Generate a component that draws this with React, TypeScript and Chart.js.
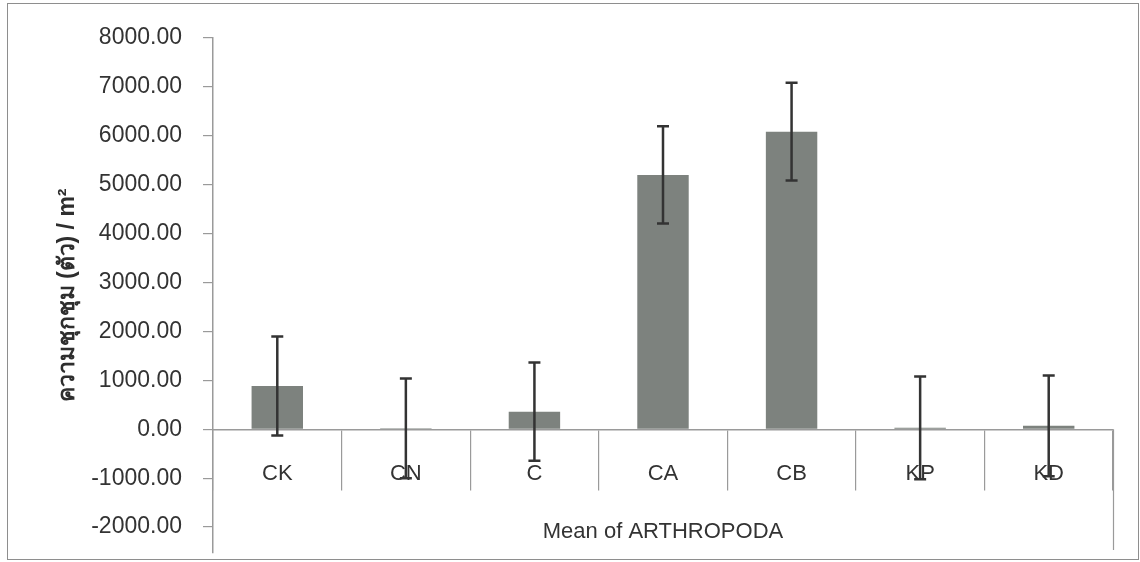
import React, { useEffect, useRef } from 'react';
import { Chart, registerables } from 'chart.js';

Chart.register(...registerables);

// ---- data ----
const categories: string[] = ['CK', 'CN', 'C', 'CA', 'CB', 'KP', 'KD'];
const means: number[] = [885, 20, 360, 5200, 6085, 30, 70];
const errors: number[] = [1010, 1020, 1005, 995, 1000, 1050, 1030];
const yTickValues: number[] = [-2000, -1000, 0, 1000, 2000, 3000, 4000, 5000, 6000, 7000, 8000];
const yMin = -2530;
const yMax = 8000;
const xTitle = 'Mean of ARTHROPODA';
const yTitle = 'ความชุกชุม (ตัว) / m²';

const FONT = "Tahoma, 'Liberation Sans', 'DejaVu Sans', sans-serif";
const TEXT = '#333333';
const AXIS = '#9a9a9a';

const errorBarPlugin = {
  id: 'errorBars',
  afterDatasetsDraw(chart: any) {
    const { ctx } = chart;
    const y = chart.scales.y;
    const meta = chart.getDatasetMeta(0);
    ctx.save();
    ctx.strokeStyle = '#333333';
    ctx.lineWidth = 2.5;
    meta.data.forEach((bar: any, i: number) => {
      const cx = bar.x;
      const top = y.getPixelForValue(means[i] + errors[i]);
      const bot = y.getPixelForValue(means[i] - errors[i]);
      ctx.beginPath();
      ctx.moveTo(cx, top);
      ctx.lineTo(cx, bot);
      ctx.moveTo(cx - 6, top);
      ctx.lineTo(cx + 6, top);
      ctx.moveTo(cx - 6, bot);
      ctx.lineTo(cx + 6, bot);
      ctx.stroke();
    });
    ctx.restore();
  },
};

const rightEdgePlugin = {
  id: 'rightEdge',
  afterDraw(chart: any) {
    const { ctx, chartArea } = chart;
    const y = chart.scales.y;
    const x0 = Math.round(chartArea.right) + 0.5;
    ctx.save();
    ctx.strokeStyle = AXIS;
    ctx.lineWidth = 1.2;
    ctx.beginPath();
    ctx.moveTo(x0, y.getPixelForValue(0));
    ctx.lineTo(x0, chartArea.bottom - 3);
    ctx.stroke();
    ctx.restore();
  },
};

export default function App() {
  const canvasRef = useRef<HTMLCanvasElement | null>(null);

  useEffect(() => {
    if (!canvasRef.current) return;
    const chart = new Chart(canvasRef.current, {
      type: 'bar',
      data: {
        labels: categories,
        datasets: [
          {
            label: xTitle,
            data: means,
            backgroundColor: '#7d827e',
            borderWidth: 0,
            barPercentage: 0.4,
            categoryPercentage: 1,
          },
        ],
      },
      options: {
        responsive: false,
        animation: false,
        layout: { padding: { left: 10, top: 38, right: 27, bottom: 9 } },
        plugins: {
          legend: { display: false },
          tooltip: { enabled: false },
          title: { display: false },
        },
        scales: {
          x: {
            type: 'category',
            position: { y: 0 } as any,
            offset: true,
            grid: {
              offset: true,
              drawOnChartArea: false,
              drawTicks: true,
              tickLength: 60,
              color: AXIS,
              lineWidth: 1.2,
            },
            border: { display: true, color: AXIS, width: 1.5 },
            ticks: {
              font: { family: FONT, size: 22 },
              color: TEXT,
              padding: -29,
              maxRotation: 0,
              autoSkip: false,
            },
            title: {
              display: true,
              text: xTitle,
              font: { family: FONT, size: 22 },
              color: TEXT,
              padding: 0,
            },
            afterFit: (s: any) => {
              s.height = 116;
              s.paddingLeft = 0;
              s.paddingRight = 0;
            },
          } as any,
          y: {
            min: yMin,
            max: yMax,
            afterBuildTicks: (s: any) => {
              s.ticks = yTickValues.map((v) => ({ value: v }));
            },
            ticks: {
              autoSkip: false,
              padding: 21,
              font: { family: FONT, size: 23 },
              color: TEXT,
              callback: (v: any) => Number(v).toFixed(2),
            },
            grid: {
              drawOnChartArea: false,
              drawTicks: true,
              tickLength: 10,
              color: AXIS,
              lineWidth: 1.2,
            },
            border: { display: true, color: AXIS, width: 1.5 },
            title: {
              display: true,
              text: yTitle,
              font: { family: FONT, size: 23, weight: 'bold' },
              color: '#2e2e2e',
              padding: { top: 44, bottom: 0 },
            },
            afterFit: (s: any) => {
              s.width = 203;
              s.paddingTop = 0;
              s.paddingBottom = 0;
            },
          } as any,
        },
      },
      plugins: [errorBarPlugin, rightEdgePlugin],
    });
    return () => chart.destroy();
  }, []);

  return (
    <div
      style={{
        position: 'fixed',
        left: 0,
        top: 0,
        width: 1140,
        height: 562,
        background: '#ffffff',
        overflow: 'hidden',
      }}
    >
      <canvas
        ref={canvasRef}
        width={1140}
        height={562}
        style={{ position: 'absolute', left: 0, top: 0, width: 1140, height: 562 }}
      />
      <div
        style={{
          position: 'absolute',
          left: 7,
          top: 3,
          width: 1132,
          height: 557,
          boxSizing: 'border-box',
          border: '1.5px solid #8e8e8e',
          pointerEvents: 'none',
        }}
      />
    </div>
  );
}
